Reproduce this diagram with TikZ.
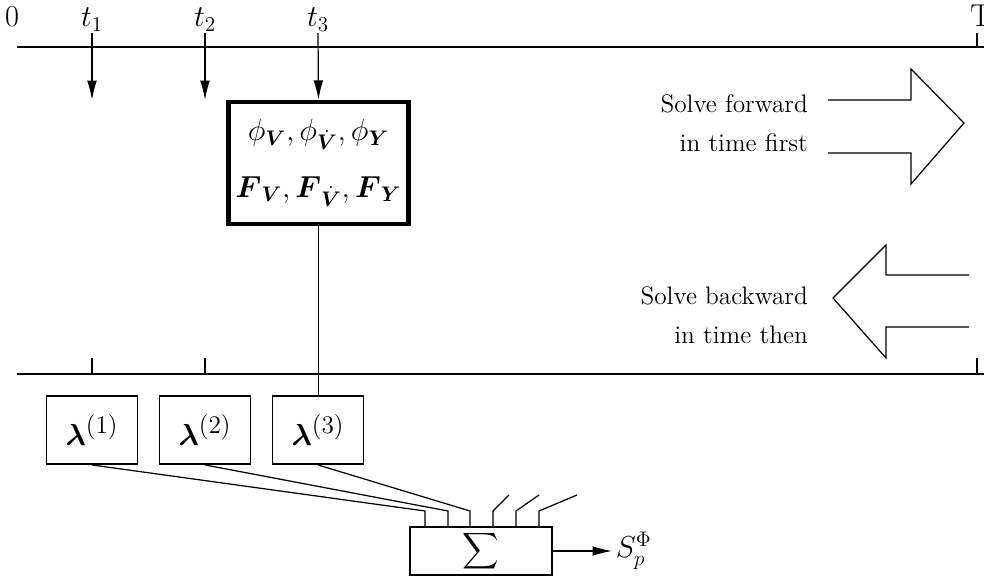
\documentclass[tikz,border=0pt]{standalone}
\usepackage{amsmath,amssymb}
\usetikzlibrary{arrows.meta}
\tikzset{
  timeline/.style={line width=1.4pt},
  tarrow/.style={line width=0.7pt,-{Latex[length=11pt,width=5.5pt]}},
  thin line/.style={line width=0.7pt},
  tlabel/.style={anchor=base,font=\fontsize{18}{22}\selectfont},
  lambox/.style={draw,line width=1.1pt,minimum width=1.82cm,minimum height=1.36cm,font=\fontsize{19}{23}\selectfont},
}
\begin{document}
\begin{tikzpicture}[x=0.02cm,y=-0.02cm]
\useasboundingbox (0,0) rectangle (984,581);

% time axes
\draw[timeline] (17,47) -- (984,47);
\draw[timeline] (17,374) -- (984,374);

\node[tlabel] (n0) at (12,27) {$0$};
\node[tlabel] (nT) at (981,27) {T};
\draw[thin line] (977,33) -- (977,47);
\draw[thin line] (977,358) -- (977,374);

\node[draw,line width=2.6pt,minimum width=3.6cm,minimum height=2.44cm,align=center,font=\LARGE] (sens) at (318.5,163)
  {$\phi_{\boldsymbol V},\phi_{\dot{\boldsymbol V}},\phi_{\boldsymbol Y}$\\[10pt]
   $\boldsymbol F_{\boldsymbol V},\boldsymbol F_{\dot{\boldsymbol V}},\boldsymbol F_{\boldsymbol Y}$};

\foreach \i/\x in {1/92,2/205,3/318}{
  \node[tlabel] (t\i) at (\x,27) {$t_\i$};
  \coordinate (a\i) at (\x,100);
  \node[lambox] (lam\i) at (\x,430) {$\boldsymbol\lambda^{(\i)}$};
}
\draw[tarrow] (92,33) -- (a1);
\draw[tarrow] (205,33) -- (a2);
\draw[tarrow] (318,33) -- (sens.north);
\draw[thin line] (92,358) -- (92,374);
\draw[thin line] (205,358) -- (205,374);
\draw[thin line] (sens.south) -- (sens.south |- lam3.north);

% forward / backward
\node[anchor=east,align=right,font=\Large] (fwd) at (814,123) {Solve forward\\[4pt]in time first};
\node[anchor=east,align=right,font=\Large] (bwd) at (814,315) {Solve backward\\[4pt]in time then};
\draw[thin line] (828,100) -- (911,100) -- (911,69) -- (964,123) -- (911,184) -- (911,153) -- (828,153);
\draw[thin line] (969,275) -- (886,275) -- (886,245) -- (833,298) -- (886,358) -- (886,327) -- (969,327);

% summation
\node[draw,line width=1.1pt,inner sep=0pt,minimum width=2.84cm,minimum height=0.96cm,font=\Large] (sum) at (481,551) {$\displaystyle\sum$};
\foreach \i/\x in {1/425,2/448,3/470,4/493,5/516,6/539}
  \coordinate (s\i) at (\x,511);
\foreach \i in {1,2,3}
  \draw[thin line] (lam\i.south) -- (s\i) -- (s\i |- sum.north);
\foreach \i/\d in {4/16,5/23,6/38}
  \draw[thin line] (s\i |- sum.north) -- (s\i) -- ++(\d,-16);
\node[anchor=west,font=\LARGE,inner sep=2pt] (Sp) at (612,551) {$S_p^{\Phi}$};
\draw[tarrow] (sum.east) -- (Sp.west);
\end{tikzpicture}
\end{document}
